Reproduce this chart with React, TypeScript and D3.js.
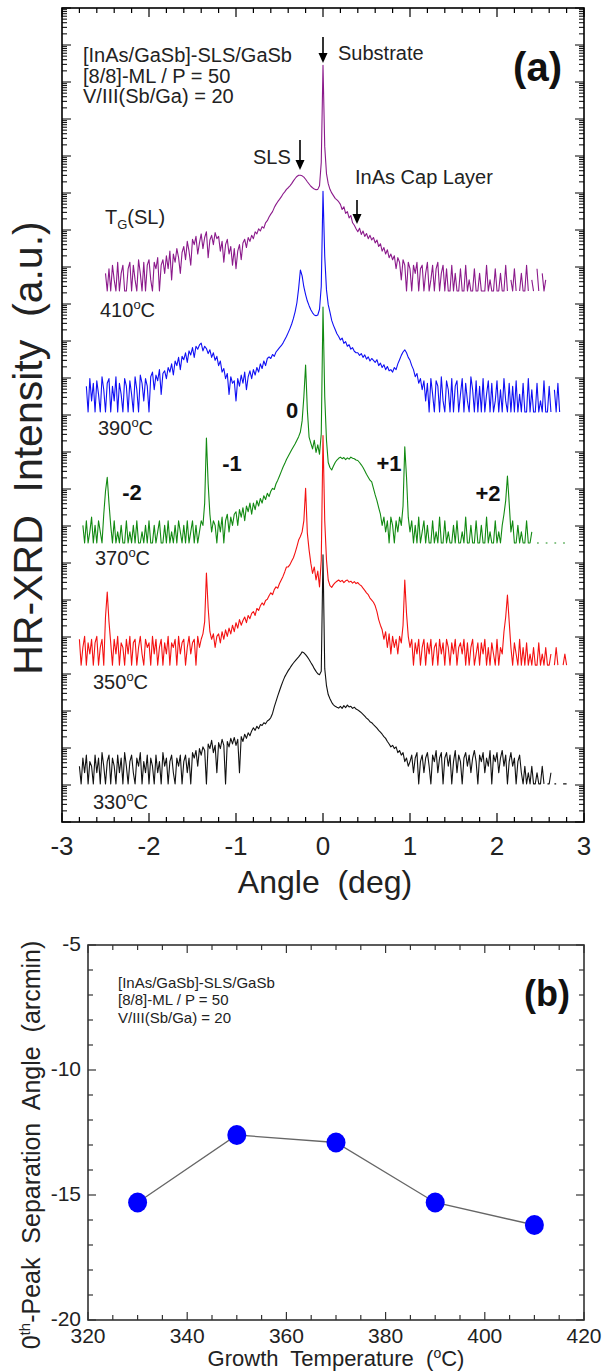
import React from 'react';
import * as d3 from 'd3';

// ---------- Panel (a): HR-XRD scans, counts ----------
// Scan grid: angle = (startIndex + i) * scanStep  (deg). 0 = no count (gap).
const scanStep = 0.02;

const purpleStart = -130; // T_G = 410 C
const purple410 = [
  0, 0, 0, 0, 0, 3, 1, 4, 1, 5,
  2, 1, 6, 1, 3, 5, 1, 1, 4, 6,
  1, 5, 2, 1, 7, 3, 1, 6, 1, 5,
  7, 2, 1, 6, 4, 8, 1, 5, 7, 3,
  9, 4, 12, 2, 10, 6, 14, 8, 3, 11,
  16, 7, 22, 12, 5, 25, 18, 30, 10, 20,
  35, 14, 28, 40, 8, 24, 32, 18, 38, 26,
  30, 12, 22, 6, 18, 25, 10, 16, 5, 14,
  4, 12, 18, 7, 20, 25, 15, 28, 22, 32,
  26, 40, 35, 48, 42, 55, 50, 70, 80, 100,
  120, 140, 180, 220, 260, 300, 350, 420, 480, 560,
  620, 700, 800, 950, 1100, 1250, 1350, 1350, 1300, 1200,
  1050, 900, 780, 680, 620, 570, 545, 560, 700, 3000,
  1260000, 8000, 1500, 800, 560, 450, 380, 320, 290, 260,
  220, 160, 190, 125, 140, 95, 110, 70, 60, 48,
  40, 50, 34, 42, 30, 36, 26, 32, 24, 28,
  20, 24, 16, 19, 12, 15, 10, 13, 8, 10,
  7, 9, 4, 8, 6, 2, 7, 5, 1, 6,
  4, 1, 5, 3, 6, 1, 4, 5, 1, 3,
  6, 1, 2, 5, 1, 4, 6, 1, 3, 5,
  1, 4, 1, 1, 5, 1, 3, 1, 1, 4,
  1, 1, 5, 1, 2, 1, 1, 4, 1, 1,
  3, 1, 1, 1, 5, 1, 2, 1, 1, 4,
  1, 1, 3, 1, 1, 5, 1, 0, 2, 1,
  4, 1, 0, 1, 3, 1, 1, 5, 1, 0,
  2, 1, 0, 4, 1, 0, 3, 1, 2, 0,
];

const blueStart = -140; // T_G = 390 C
const blue390 = [
  0, 0, 0, 0, 5, 1, 8, 2, 6, 1,
  7, 3, 1, 9, 4, 1, 6, 8, 1, 5,
  2, 9, 1, 6, 3, 1, 8, 5, 1, 7,
  3, 1, 9, 4, 1, 10, 6, 2, 8, 5,
  1, 9, 12, 4, 10, 7, 14, 3, 11, 13,
  8, 16, 12, 20, 10, 24, 18, 30, 14, 32,
  26, 40, 22, 45, 35, 55, 30, 60, 50, 65,
  73, 45, 60, 52, 38, 48, 30, 40, 25, 32,
  18, 24, 12, 15, 8, 11, 3, 9, 6, 7,
  2, 8, 5, 10, 6, 12, 4, 9, 13, 8,
  14, 10, 16, 12, 20, 15, 24, 18, 28, 31,
  28, 36, 32, 42, 48, 55, 62, 73, 90, 110,
  140, 180, 240, 340, 520, 900, 2200, 6900, 4800, 2400,
  1500, 1000, 750, 580, 480, 420, 400, 420, 600, 2500,
  930000, 16000, 2000, 800, 500, 300, 220, 170, 130, 110,
  89, 100, 72, 80, 60, 66, 50, 55, 44, 40,
  40, 34, 38, 30, 35, 27, 31, 24, 28, 25,
  22, 26, 18, 21, 16, 19, 14, 17, 13, 14,
  12, 16, 14, 20, 26, 34, 42, 48, 40, 30,
  25, 18, 14, 9, 11, 6, 8, 4, 7, 2,
  6, 1, 8, 3, 1, 7, 5, 1, 9, 2,
  1, 7, 4, 1, 8, 1, 5, 7, 1, 3,
  8, 1, 6, 2, 1, 9, 4, 1, 7, 1,
  5, 1, 8, 1, 3, 7, 1, 6, 1, 2,
  7, 1, 4, 1, 8, 2, 1, 6, 1, 5,
  1, 7, 1, 3, 1, 6, 1, 1, 8, 1,
  4, 1, 1, 6, 1, 2, 1, 7, 1, 1,
  5, 1, 0, 4, 1, 6, 1, 0, 0, 0,
];

const greenStart = -140; // T_G = 370 C
const green370 = [
  0, 0, 3, 1, 4, 1, 2, 5, 1, 3,
  1, 4, 2, 1, 6, 25, 60, 12, 3, 1,
  4, 1, 2, 1, 3, 1, 1, 4, 1, 2,
  1, 3, 1, 4, 1, 1, 2, 1, 3, 1,
  4, 1, 1, 3, 1, 2, 4, 1, 1, 3,
  1, 4, 1, 2, 1, 3, 1, 4, 2, 1,
  3, 1, 4, 1, 2, 4, 1, 3, 1, 2,
  4, 3, 12, 690, 40, 6, 2, 4, 3, 1,
  4, 2, 5, 1, 4, 6, 2, 5, 3, 6,
  7, 3, 8, 5, 9, 4, 10, 7, 12, 6,
  12, 8, 14, 10, 16, 12, 19, 15, 22, 18,
  25, 30, 28, 40, 50, 65, 85, 112, 140, 180,
  220, 270, 330, 400, 480, 600, 750, 1000, 2000, 9000,
  65000, 4000, 730, 500, 350, 600, 280, 450, 250, 900,
  2400000, 9000, 600, 150, 110, 94, 120, 150, 175, 195,
  210, 190, 205, 180, 200, 185, 210, 195, 190, 175,
  170, 150, 130, 110, 90, 72, 60, 50, 45, 30,
  20, 14, 9, 6, 3, 5, 2, 4, 1, 5,
  3, 1, 4, 2, 5, 3, 10, 400, 60, 5,
  2, 4, 1, 3, 1, 5, 1, 2, 4, 1,
  3, 1, 1, 4, 1, 2, 1, 5, 1, 1,
  4, 1, 2, 1, 1, 3, 1, 4, 1, 1,
  2, 1, 5, 1, 1, 3, 1, 1, 4, 1,
  1, 3, 1, 1, 5, 1, 2, 1, 1, 4,
  1, 2, 1, 3, 6, 14, 65, 12, 2, 4,
  1, 1, 3, 1, 2, 1, 1, 4, 1, 1,
  2, 0, 0, 1, 1, 0, 0, 0, 1, 1,
  0, 0, 0, 1, 1, 0, 0, 0, 1, 1,
];

const redStart = -140; // T_G = 350 C
const red350 = [
  5, 1, 3, 6, 1, 4, 2, 5, 1, 4,
  6, 1, 3, 5, 1, 20, 94, 15, 4, 1,
  5, 2, 6, 1, 4, 3, 1, 5, 2, 6,
  1, 4, 5, 1, 3, 6, 2, 1, 5, 3,
  4, 1, 6, 2, 5, 1, 3, 5, 1, 4,
  2, 6, 1, 4, 3, 5, 1, 6, 2, 4,
  5, 1, 3, 6, 2, 4, 5, 1, 6, 3,
  5, 7, 15, 310, 35, 8, 5, 7, 3, 6,
  7, 4, 8, 5, 9, 6, 10, 7, 12, 8,
  14, 10, 17, 12, 16, 20, 14, 22, 18, 25,
  28, 22, 34, 30, 40, 48, 42, 56, 60, 75,
  90, 80, 110, 130, 120, 160, 200, 250, 330, 450,
  450, 520, 650, 800, 1100, 1600, 2400, 3000, 4000, 8000,
  60000, 3700, 1300, 570, 300, 450, 200, 350, 130, 700,
  1600000, 8000, 700, 200, 140, 126, 150, 170, 185, 200,
  180, 195, 170, 190, 200, 175, 185, 165, 180, 160,
  170, 150, 140, 120, 105, 90, 80, 65, 57, 50,
  40, 28, 17, 12, 9, 5, 8, 3, 7, 2,
  6, 3, 5, 2, 6, 4, 12, 200, 25, 6,
  3, 5, 1, 4, 2, 5, 1, 3, 5, 1,
  4, 2, 5, 1, 3, 4, 1, 5, 2, 4,
  1, 5, 3, 1, 4, 2, 5, 1, 3, 4,
  2, 5, 1, 4, 1, 3, 5, 1, 2, 4,
  1, 4, 2, 5, 1, 3, 1, 4, 2, 1,
  5, 1, 3, 2, 8, 20, 78, 15, 3, 1,
  4, 2, 1, 5, 1, 3, 1, 4, 1, 2,
  1, 3, 1, 1, 4, 1, 2, 1, 3, 1,
  1, 2, 0, 1, 3, 1, 0, 0, 1, 2,
  1, 0, 0, 0, 0, 0, 0, 0, 0, 0,
];

const blackStart = -140; // T_G = 330 C
const black330 = [
  3, 1, 5, 2, 6, 1, 4, 3, 1, 6,
  2, 5, 1, 7, 3, 1, 4, 6, 1, 5,
  3, 1, 6, 2, 5, 1, 7, 3, 1, 4,
  6, 2, 1, 5, 3, 7, 1, 4, 2, 6,
  1, 5, 3, 1, 6, 2, 4, 1, 7, 3,
  5, 1, 4, 6, 2, 1, 5, 3, 6, 1,
  4, 6, 2, 5, 1, 7, 5, 8, 3, 9,
  6, 10, 8, 1, 12, 9, 15, 7, 11, 2,
  13, 9, 16, 11, 1, 14, 10, 17, 12, 18,
  11, 16, 2, 19, 14, 22, 17, 24, 20, 27,
  33, 28, 36, 31, 40, 38, 45, 42, 50, 54,
  62, 80, 120, 170, 240, 330, 450, 600, 780, 950,
  1150, 1350, 1600, 1850, 2100, 2400, 2700, 3100, 3700, 3500,
  3100, 2700, 2300, 1900, 1600, 1300, 1100, 950, 890, 1100,
  1550000, 1300, 450, 260, 200, 160, 137, 125, 118, 112,
  125, 110, 130, 115, 135, 120, 125, 110, 118, 105,
  100, 92, 84, 76, 68, 60, 55, 48, 45, 40,
  36, 32, 28, 25, 22, 19, 17, 14, 12, 10,
  11, 9, 10, 7, 8, 6, 7, 4, 5, 3,
  4, 6, 2, 5, 7, 1, 4, 6, 2, 5,
  7, 3, 1, 6, 4, 8, 2, 5, 7, 1,
  5, 7, 3, 6, 1, 4, 8, 2, 6, 4,
  1, 5, 7, 3, 6, 2, 5, 8, 4, 1,
  6, 4, 7, 2, 5, 3, 8, 1, 6, 4,
  7, 2, 5, 8, 3, 6, 1, 4, 7, 3,
  5, 1, 4, 6, 2, 1, 3, 1, 2, 1,
  3, 1, 1, 2, 1, 1, 3, 1, 0, 1,
  1, 2, 0, 1, 1, 0, 1, 0, 1, 1,
  1, 0, 0, 0, 0, 0, 0, 0, 0, 0,
];

// vertical stacking of the scans (decades)
const scanOffsets = [14.35, 11.08, 7.54, 4.24, 1.03];
const scanColors = ['#8b1a8b', '#1010f4', '#128a12', '#f41212', '#111111'];
const scanLabels = ['410', '390', '370', '350', '330'];

const xTickLabelsA = [-3, -2, -1, 0, 1, 2, 3];

// ---------- Panel (b) ----------
const growthTemps = [330, 350, 370, 390, 410];
const peakSeparation = [-15.3, -12.6, -12.9, -15.3, -16.2];
const xTickLabelsB = [320, 340, 360, 380, 400, 420];
const yTickLabelsB = [-5, -10, -15, -20];

const FONT = "'Liberation Sans', Arial, Helvetica, sans-serif";

type Pt = [number, number];

export default function App() {
  const W = 603;
  const H = 1372;
  const A = { left: 62, right: 584, top: 8, bottom: 822 };
  const B = { left: 88, right: 584, top: 945, bottom: 1320 };

  const xA = d3.scaleLinear().domain([-3, 3]).range([A.left, A.right]);
  const yA = d3.scaleLog().domain([1, 1e22]).range([A.bottom, A.top]);

  const scans = [
    { start: purpleStart, counts: purple410 },
    { start: blueStart, counts: blue390 },
    { start: greenStart, counts: green370 },
    { start: redStart, counts: red350 },
    { start: blackStart, counts: black330 },
  ];

  const lineA = d3
    .line<Pt>()
    .defined((d) => d[1] > 0)
    .x((d) => xA(d[0]))
    .y((d) => yA(d[1]));

  const scanPaths = scans.map((s, k) => {
    const mult = Math.pow(10, scanOffsets[k]);
    const pts: Pt[] = s.counts.map((c, i) => [(s.start + i) * scanStep, c > 0 ? c * mult : 0]);
    return lineA(pts) || '';
  });

  const xTicksA = xA.ticks(30);
  const isInt = (v: number) => Math.abs(v - Math.round(v)) < 1e-6;
  const yTicksA: { v: number; major: boolean }[] = [];
  for (let d = 0; d <= 22; d++) {
    for (let k = 1; k <= 9; k++) {
      const v = k * Math.pow(10, d);
      if (v <= 1e22 * 1.0001) yTicksA.push({ v, major: k === 1 });
    }
  }

  const xB = d3.scaleLinear().domain([320, 420]).range([B.left, B.right]);
  const yB = d3.scaleLinear().domain([-20, -5]).range([B.bottom, B.top]);
  const lineB = d3
    .line<number>()
    .x((_, i) => xB(growthTemps[i]))
    .y((d) => yB(d));

  const arrow = (x: number, y0: number, y1: number) => (
    <g>
      <line x1={x} x2={x} y1={y0} y2={y1 - 8} stroke="#000" strokeWidth={1.6} />
      <path d={`M${x - 4.5},${y1 - 10} L${x + 4.5},${y1 - 10} L${x},${y1} Z`} fill="#000" />
    </g>
  );

  const tempLabelPos = [
    { x: 100, y: 317 },
    { x: 98, y: 435 },
    { x: 95, y: 565 },
    { x: 93, y: 689 },
    { x: 93, y: 809 },
  ];

  return (
    <svg width={W} height={H} style={{ position: 'absolute', left: 0, top: 0, fontFamily: FONT }}>
      <rect x={0} y={0} width={W} height={H} fill="#fff" />

      {/* ===== Panel (a) ===== */}
      <g>
        {scanPaths.map((p, k) => (
          <path key={k} d={p} fill="none" stroke={scanColors[k]} strokeWidth={1.1} strokeLinejoin="round" />
        ))}

        <rect x={A.left} y={A.top} width={A.right - A.left} height={A.bottom - A.top} fill="none" stroke="#000" strokeWidth={1.6} />

        {xTicksA.map((v, i) => {
          const L = isInt(v) ? 9 : 5;
          const X = xA(v);
          return (
            <g key={'xa' + i}>
              <line x1={X} x2={X} y1={A.bottom} y2={A.bottom - L} stroke="#000" strokeWidth={1.2} />
              <line x1={X} x2={X} y1={A.top} y2={A.top + L} stroke="#000" strokeWidth={1.2} />
            </g>
          );
        })}
        {yTicksA.map((t, i) => {
          const L = t.major ? 9 : 5;
          const Y = yA(t.v);
          return (
            <g key={'ya' + i}>
              <line x1={A.left} x2={A.left + L} y1={Y} y2={Y} stroke="#000" strokeWidth={1} />
              <line x1={A.right} x2={A.right - L} y1={Y} y2={Y} stroke="#000" strokeWidth={1} />
            </g>
          );
        })}
        {xTickLabelsA.map((v) => (
          <text key={'xl' + v} x={xA(v)} y={855} fontSize={26} textAnchor="middle" fill="#222">
            {v}
          </text>
        ))}
        <text x={325} y={893} fontSize={32} textAnchor="middle" fill="#222" style={{ whiteSpace: 'pre' }}>
          {'Angle  (deg)'}
        </text>
        <text
          transform="translate(42,448) rotate(-90)"
          fontSize={41}
          textAnchor="middle"
          fill="#222"
          style={{ whiteSpace: 'pre' }}
        >
          {'HR-XRD  Intensity  (a.u.)'}
        </text>

        <text x={83} y={62} fontSize={20} fill="#222">[InAs/GaSb]-SLS/GaSb</text>
        <text x={83} y={83} fontSize={20} fill="#222">[8/8]-ML / P = 50</text>
        <text x={83} y={103} fontSize={20} fill="#222">V/III(Sb/Ga) = 20</text>
        <text x={562} y={81} fontSize={40} fontWeight="bold" textAnchor="end" fill="#111">(a)</text>

        <text x={338} y={60} fontSize={20} fill="#222">Substrate</text>
        {arrow(xA(0), 37, 63)}
        <text x={253} y={164} fontSize={20} fill="#222">SLS</text>
        {arrow(300, 140, 170)}
        <text x={355} y={184} fontSize={20} fill="#222">InAs Cap Layer</text>
        {arrow(357, 200, 224)}

        <text x={105} y={224} fontSize={20} fill="#222">
          T<tspan dy={5} fontSize={13}>G</tspan>
          <tspan dy={-5}>(SL)</tspan>
        </text>

        {tempLabelPos.map((p, k) => (
          <text key={'tl' + k} x={p.x} y={p.y} fontSize={20} fill="#222">
            {scanLabels[k]}
            <tspan dy={-8} fontSize={13}>o</tspan>
            <tspan dy={8}>C</tspan>
          </text>
        ))}

        <text x={132} y={500} fontSize={22} fontWeight="bold" textAnchor="middle" fill="#111">-2</text>
        <text x={232} y={471} fontSize={22} fontWeight="bold" textAnchor="middle" fill="#111">-1</text>
        <text x={292} y={418} fontSize={22} fontWeight="bold" textAnchor="middle" fill="#111">0</text>
        <text x={389} y={471} fontSize={22} fontWeight="bold" textAnchor="middle" fill="#111">+1</text>
        <text x={488} y={501} fontSize={22} fontWeight="bold" textAnchor="middle" fill="#111">+2</text>
      </g>

      {/* ===== Panel (b) ===== */}
      <g>
        <rect x={B.left} y={B.top} width={B.right - B.left} height={B.bottom - B.top} fill="none" stroke="#333" strokeWidth={1.6} />
        {xB.ticks(20).map((v, i) => {
          const L = v % 20 === 0 ? 8 : 5;
          const X = xB(v);
          return (
            <g key={'xb' + i}>
              <line x1={X} x2={X} y1={B.bottom} y2={B.bottom - L} stroke="#333" strokeWidth={1.2} />
              <line x1={X} x2={X} y1={B.top} y2={B.top + L} stroke="#333" strokeWidth={1.2} />
            </g>
          );
        })}
        {yB.ticks(15).map((v, i) => {
          const L = v % 5 === 0 ? 8 : 5;
          const Y = yB(v);
          return (
            <g key={'yb' + i}>
              <line x1={B.left} x2={B.left + L} y1={Y} y2={Y} stroke="#333" strokeWidth={1.2} />
              <line x1={B.right} x2={B.right - L} y1={Y} y2={Y} stroke="#333" strokeWidth={1.2} />
            </g>
          );
        })}
        {xTickLabelsB.map((v) => (
          <text key={'xlb' + v} x={xB(v)} y={1343} fontSize={21} textAnchor="middle" fill="#222">
            {v}
          </text>
        ))}
        {yTickLabelsB.map((v) => (
          <text key={'ylb' + v} x={81} y={yB(v) + 6} fontSize={21} textAnchor="end" fill="#222">
            {v}
          </text>
        ))}
        <text x={336} y={1366} fontSize={22} textAnchor="middle" fill="#222" style={{ whiteSpace: 'pre' }}>
          {'Growth  Temperature  ('}
          <tspan dy={-8} fontSize={14}>o</tspan>
          <tspan dy={8}>C)</tspan>
        </text>
        <text
          transform="translate(40,1145) rotate(-90)"
          fontSize={25}
          textAnchor="middle"
          fill="#222"
          style={{ whiteSpace: 'pre' }}
        >
          0<tspan dy={-10} fontSize={15}>th</tspan>
          <tspan dy={10}>{'-Peak  Separation  Angle  (arcmin)'}</tspan>
        </text>

        <text x={118} y={988} fontSize={15} fill="#222">[InAs/GaSb]-SLS/GaSb</text>
        <text x={118} y={1005} fontSize={15} fill="#222">[8/8]-ML / P = 50</text>
        <text x={118} y={1023} fontSize={15} fill="#222">V/III(Sb/Ga) = 20</text>
        <text x={570} y={1006} fontSize={36} fontWeight="bold" textAnchor="end" fill="#111">(b)</text>

        <path d={lineB(peakSeparation) || ''} fill="none" stroke="#666" strokeWidth={1.3} />
        {peakSeparation.map((v, i) => (
          <ellipse key={'pt' + i} cx={xB(growthTemps[i])} cy={yB(v)} rx={9.5} ry={10} fill="#0000ff" />
        ))}
      </g>
    </svg>
  );
}
